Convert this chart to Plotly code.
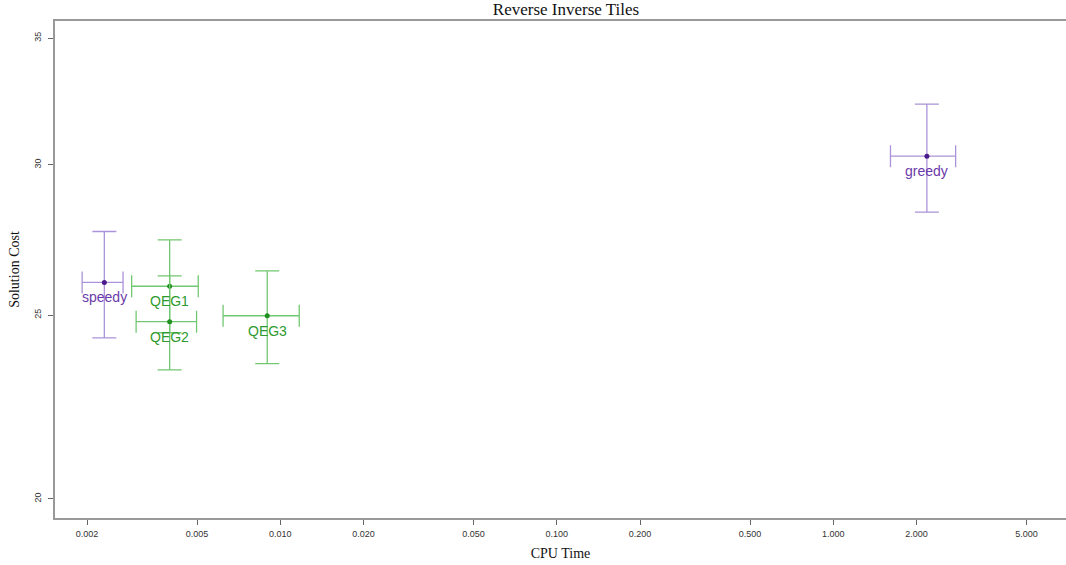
import plotly.graph_objects as go
import math

# Data
names = ["speedy", "QEG1", "QEG2", "QEG3", "greedy"]
cpu_time = [0.00231, 0.00398, 0.00398, 0.00897, 2.18]
cpu_low = [0.00192, 0.00290, 0.00301, 0.00621, 1.61]
cpu_high = [0.00270, 0.00505, 0.00498, 0.01171, 2.77]
cost = [26.01, 25.89, 24.80, 24.98, 30.32]
cost_low = [24.32, 24.47, 23.39, 23.57, 28.33]
cost_high = [27.67, 27.39, 26.22, 26.38, 32.30]
groups = ["purple", "green", "green", "green", "purple"]

x_ticks = [0.002, 0.005, 0.010, 0.020, 0.050, 0.100, 0.200, 0.500, 1.000, 2.000, 5.000]
x_ticktext = ["%.3f" % v for v in x_ticks]
y_ticks = [20, 25, 30, 35]

palette = {
    "purple": dict(dot="#4a1a8c", bar="#ab93d9", text="#6a3aa8"),
    "green": dict(dot="#1f8f1f", bar="#72c872", text="#2e9a2e"),
}

fig = go.Figure()
for i, n in enumerate(names):
    c = palette[groups[i]]
    fig.add_trace(go.Scatter(
        x=[cpu_time[i]], y=[cost[i]],
        mode="markers",
        marker=dict(size=5, color=c["dot"]),
        error_x=dict(type="data", symmetric=False,
                     array=[cpu_high[i] - cpu_time[i]],
                     arrayminus=[cpu_time[i] - cpu_low[i]],
                     color=c["bar"], thickness=1.3, width=11),
        error_y=dict(type="data", symmetric=False,
                     array=[cost_high[i] - cost[i]],
                     arrayminus=[cost[i] - cost_low[i]],
                     color=c["bar"], thickness=1.3, width=12),
        showlegend=False, cliponaxis=False,
    ))
    fig.add_annotation(
        x=math.log10(cpu_time[i]), y=math.log10(cost[i]), xref="x", yref="y",
        text=n, showarrow=False, yshift=-15,
        font=dict(family="Liberation Sans, Arial", size=14, color=c["text"]),
    )

fig.update_layout(
    width=1066, height=565,
    margin=dict(l=55, r=0, t=21, b=47),
    plot_bgcolor="white", paper_bgcolor="white",
    title=dict(text="Reverse Inverse Tiles", x=0.531, xanchor="center", y=0.995, yanchor="top",
               font=dict(family="Liberation Serif, Times New Roman", size=17, color="#111")),
    xaxis=dict(type="log", range=[-2.8148, 0.8416],
               tickvals=x_ticks, ticktext=x_ticktext,
               showgrid=False, zeroline=False,
               showline=True, linecolor="#999", linewidth=1.5, mirror=True,
               ticks="outside", ticklen=5, tickcolor="#666", tickwidth=1,
               ticklabelstandoff=1,
               tickfont=dict(family="Liberation Sans, Arial", size=9, color="#333"),
               title=dict(text="CPU Time", standoff=11,
                          font=dict(family="Liberation Serif, Times New Roman", size=14, color="#111"))),
    yaxis=dict(type="log", range=[math.log10(19.54), math.log10(35.73)],
               tickvals=y_ticks, ticktext=[str(v) for v in y_ticks],
               tickangle=-90,
               showgrid=False, zeroline=False,
               showline=True, linecolor="#999", linewidth=1.5,
               ticks="outside", ticklen=5, tickcolor="#666", tickwidth=1,
               ticklabelstandoff=4,
               tickfont=dict(family="Liberation Sans, Arial", size=9, color="#333"),
               title=dict(text="Solution Cost", standoff=10,
                          font=dict(family="Liberation Serif, Times New Roman", size=14, color="#111"))),
)

fig.write_html("out.html")
